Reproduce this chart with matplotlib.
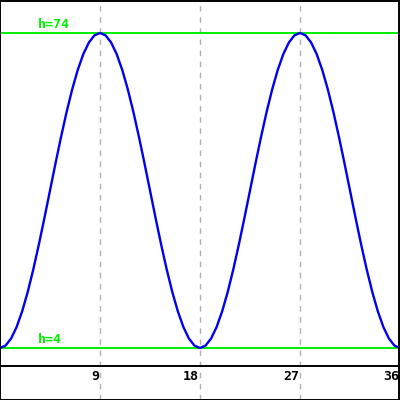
import matplotlib
matplotlib.use("Agg")
import matplotlib.pyplot as plt

# data: height sampled every half unit along x
x_vals = [i * 0.5 for i in range(73)]
h_vals = [4.0, 4.53, 6.11, 8.69, 12.19, 16.5, 21.5, 27.03, 32.92, 39.0,
          45.08, 50.97, 56.5, 61.5, 65.81, 69.31, 71.89, 73.47, 74.0,
          73.47, 71.89, 69.31, 65.81, 61.5, 56.5, 50.97, 45.08, 39.0,
          32.92, 27.03, 21.5, 16.5, 12.19, 8.69, 6.11, 4.53, 4.0,
          4.53, 6.11, 8.69, 12.19, 16.5, 21.5, 27.03, 32.92, 39.0,
          45.08, 50.97, 56.5, 61.5, 65.81, 69.31, 71.89, 73.47, 74.0,
          73.47, 71.89, 69.31, 65.81, 61.5, 56.5, 50.97, 45.08, 39.0,
          32.92, 27.03, 21.5, 16.5, 12.19, 8.69, 6.11, 4.53, 4.0]
ticks = [9, 18, 27, 36]
h_min = 4
h_max = 74

fig = plt.figure(figsize=(4, 4), dpi=100)
ax = fig.add_axes([0, 0, 1, 1])
ax.set_xlim(0, 36)
ax.set_ylim(-7.56, 81.33)
ax.axis('off')

# dashed vertical grid
for t in ticks:
    ax.axvline(t, color='#b0b0b0', lw=1, ls=(0, (4, 4)), zorder=1)

# x axis line
ax.axhline(0, color='black', lw=1.4, zorder=2)

# reference lines
ax.axhline(h_max, color='#00ee00', lw=1.4, zorder=2)
ax.axhline(h_min, color='#00ee00', lw=1.4, zorder=2)
for h in (h_max, h_min):
    ax.text(3.45, h + 0.4, f'h={h}', color='#00ee00', fontsize=9.5,
            fontweight='bold', family='DejaVu Sans Mono', ha='left', va='bottom')

# curve
ax.plot(x_vals, h_vals, color='#0000ee', lw=1.7, zorder=3)

# tick labels
for t in ticks:
    ax.text(t - 0.1, -0.9, str(t), color='black', fontsize=9.5,
            fontweight='bold', family='DejaVu Sans Mono', ha='right', va='top')

# border
fig.add_artist(plt.Rectangle((0.001, 0.001), 0.997, 0.997, transform=fig.transFigure,
                             fill=False, edgecolor='black', lw=1.4))

fig.savefig('out.png', dpi=100)
